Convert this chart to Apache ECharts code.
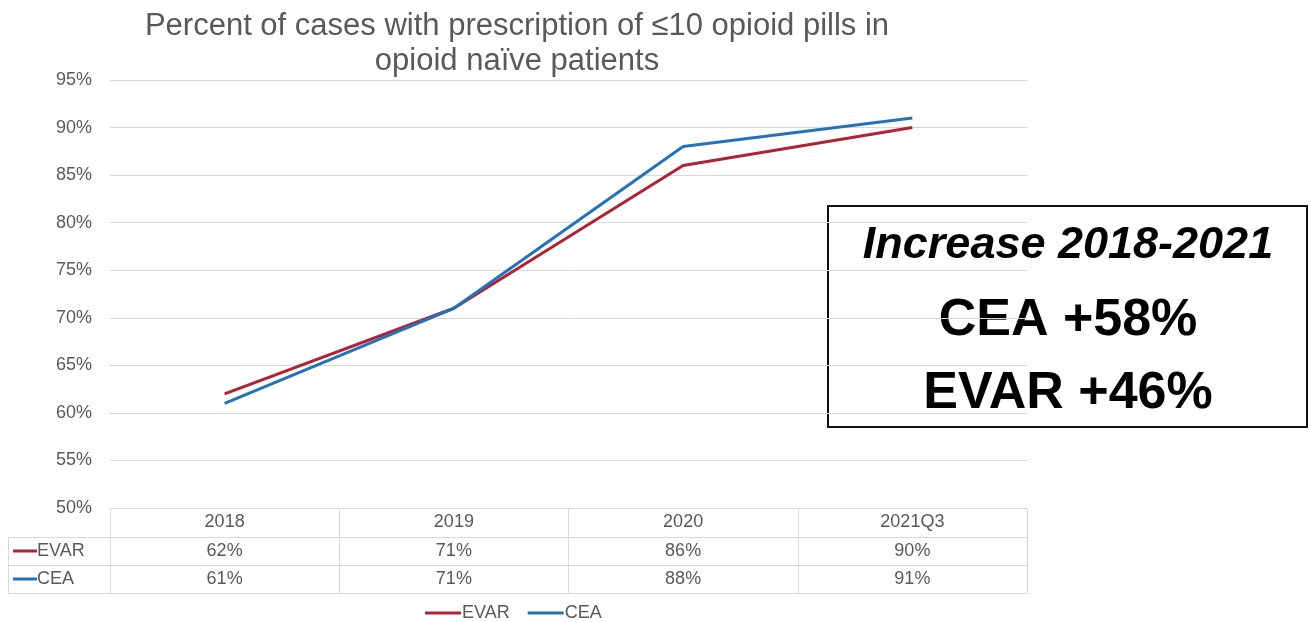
<!DOCTYPE html>
<html>
<head>
<meta charset="utf-8">
<script src="https://cdn.jsdelivr.net/npm/echarts@6/dist/echarts.min.js"></script>
<style>
html,body{margin:0;padding:0;background:#fff;}
#c{width:1310px;height:622px;}
</style>
</head>
<body>
<div id="c"></div>
<script>
var categories = ['2018', '2019', '2020', '2021Q3'];
var evar = [62, 71, 86, 90];
var cea = [61, 71, 88, 91];
var yTicks = { min: 50, max: 95, interval: 5 };
var titleLines = ['Percent of cases with prescription of \u226410 opioid pills in', 'opioid na\u00efve patients'];
var boxLines = ['Increase 2018-2021', 'CEA +58%', 'EVAR +46%'];

var FONT = 'Liberation Sans, Arial, sans-serif';
var GRAY = '#595959';
var LINE = '#d9d9d9';
var RED = '#AE2335';
var BLUE = '#2472B8';

var chart = echarts.init(document.getElementById('c'));

function valueAxis(offset, values, showLabel) {
  return {
    type: 'category',
    data: categories,
    position: 'bottom',
    gridIndex: 0,
    offset: offset,
    boundaryGap: true,
    axisLine: { show: true, lineStyle: { color: LINE, width: 1 } },
    axisTick: { show: false },
    axisLabel: {
      show: showLabel,
      margin: 5,
      color: GRAY,
      fontSize: 18,
      fontFamily: FONT,
      formatter: function (v, i) { return values ? values[i] + '%' : ''; }
    }
  };
}

var option = {
  animation: false,
  backgroundColor: '#fff',
  title: {
    text: titleLines.join('\n'),
    left: 512,
    textAlign: 'center',
    top: 4,
    textStyle: { color: GRAY, fontSize: 31, fontWeight: 'normal', fontFamily: FONT, lineHeight: 35 }
  },
  legend: {
    left: 420,
    top: 599,
    icon: 'rect',
    itemWidth: 36,
    itemHeight: 3,
    itemGap: 18,
    textStyle: { color: GRAY, fontSize: 18, fontFamily: FONT, padding: [0, 0, 0, -4] },
    data: ['EVAR', 'CEA']
  },
  grid: { left: 110, right: 283, top: 80, bottom: 114, containLabel: false },
  xAxis: [
    {
      type: 'category',
      data: categories,
      position: 'bottom',
      boundaryGap: true,
      axisLine: { show: true, lineStyle: { color: LINE, width: 1 } },
      axisTick: { show: true, length: 85, lineStyle: { color: LINE, width: 1 } },
      axisLabel: { margin: 5, color: GRAY, fontSize: 18, fontFamily: FONT }
    },
    valueAxis(29, evar, true),
    valueAxis(57, cea, true),
    valueAxis(85, null, false)
  ],
  yAxis: {
    type: 'value',
    min: yTicks.min,
    max: yTicks.max,
    interval: yTicks.interval,
    axisLine: { show: false },
    axisTick: { show: false },
    splitLine: { lineStyle: { color: LINE, width: 1 } },
    axisLabel: { color: GRAY, fontSize: 18, fontFamily: FONT, margin: 18, formatter: '{value}%' }
  },
  series: [
    { name: 'EVAR', type: 'line', data: evar, symbol: 'none', color: RED, lineStyle: { color: RED, width: 3 }, z: 3 },
    { name: 'CEA', type: 'line', data: cea, symbol: 'none', color: BLUE, lineStyle: { color: BLUE, width: 3 }, z: 4 }
  ],
  graphic: [
    // left cells of the data table
    { type: 'line', shape: { x1: 8, y1: 537.5, x2: 110, y2: 537.5 }, style: { stroke: LINE, lineWidth: 1 } },
    { type: 'line', shape: { x1: 8, y1: 565.5, x2: 110, y2: 565.5 }, style: { stroke: LINE, lineWidth: 1 } },
    { type: 'line', shape: { x1: 8, y1: 593.5, x2: 110, y2: 593.5 }, style: { stroke: LINE, lineWidth: 1 } },
    { type: 'line', shape: { x1: 8.5, y1: 537, x2: 8.5, y2: 594 }, style: { stroke: LINE, lineWidth: 1 } },
    { type: 'line', shape: { x1: 13, y1: 551, x2: 37, y2: 551 }, style: { stroke: RED, lineWidth: 3 } },
    { type: 'text', x: 37, y: 551, style: { text: 'EVAR', fill: GRAY, fontSize: 18, fontFamily: FONT, textVerticalAlign: 'middle', textBaseline: 'middle' } },
    { type: 'line', shape: { x1: 13, y1: 579, x2: 37, y2: 579 }, style: { stroke: BLUE, lineWidth: 3 } },
    { type: 'text', x: 37, y: 579, style: { text: 'CEA', fill: GRAY, fontSize: 18, fontFamily: FONT, textVerticalAlign: 'middle', textBaseline: 'middle' } },
    // annotation box
    {
      type: 'group', z: 100,
      children: [
        { type: 'rect', shape: { x: 828, y: 206, width: 479, height: 221 }, style: { fill: '#fff', stroke: '#111', lineWidth: 2 } },
        { type: 'text', x: 1068, y: 246, style: { text: boxLines[0], fill: '#000', font: 'italic bold 45px ' + FONT, textAlign: 'center', textVerticalAlign: 'middle', textBaseline: 'middle' } },
        { type: 'text', x: 1068, y: 321, style: { text: boxLines[1], fill: '#000', font: 'bold 52px ' + FONT, textAlign: 'center', textVerticalAlign: 'middle', textBaseline: 'middle' } },
        { type: 'text', x: 1068, y: 394, style: { text: boxLines[2], fill: '#000', font: 'bold 52px ' + FONT, textAlign: 'center', textVerticalAlign: 'middle', textBaseline: 'middle' } }
      ]
    }
  ]
};
chart.setOption(option);
</script>
</body>
</html>
